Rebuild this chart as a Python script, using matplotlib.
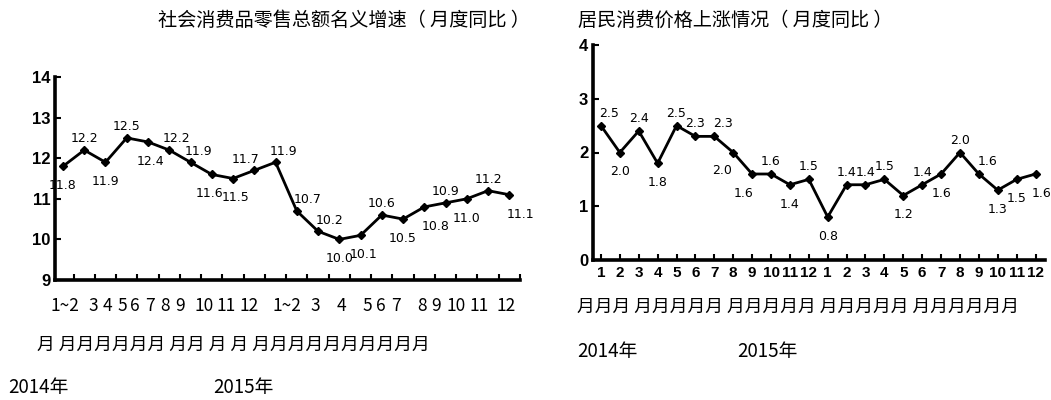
import matplotlib
matplotlib.use("Agg")
import matplotlib.pyplot as plt

plt.rcParams['font.family'] = ['Noto Sans CJK SC', 'DejaVu Sans']

# ---------------- data ----------------
retail_title = "社会消费品零售总额名义增速（ 月度同比 ）"
retail_values = [11.8, 12.2, 11.9, 12.5, 12.4, 12.2, 11.9, 11.6, 11.5, 11.7, 11.9,
                 10.7, 10.2, 10.0, 10.1, 10.6, 10.5, 10.8, 10.9, 11.0, 11.2, 11.1]
retail_yticks = [9, 10, 11, 12, 13, 14]
retail_month_labels = ["1~2", "3", "4", "5", "6", "7", "8", "9", "10", "11", "12",
                       "1~2", "3", "4", "5", "6", "7", "8", "9", "10", "11", "12"]
retail_xlabel_row2 = "月 月月月月月月 月月 月 月 月月月月月月月月月月"
year_2014 = "2014年"
year_2015 = "2015年"

cpi_title = "居民消费价格上涨情况（ 月度同比 ）"
cpi_values = [2.5, 2.0, 2.4, 1.8, 2.5, 2.3, 2.3, 2.0, 1.6, 1.6, 1.4, 1.5,
              0.8, 1.4, 1.4, 1.5, 1.2, 1.4, 1.6, 2.0, 1.6, 1.3, 1.5, 1.6]
cpi_yticks = [0, 1, 2, 3, 4]
cpi_months = [str(m) for m in range(1, 13)] * 2
cpi_xlabel_row2 = "月月月 月月月月月 月月月月月 月月月月月 月月月月月月"

# ---------------- layout (pixels / points) ----------------
# x-centres (px) of the left chart's month labels, as typeset in the source
retail_label_px = [65, 93, 107, 122, 135, 150, 165, 180, 204, 226, 249,
                   287, 315, 341, 367, 381, 396, 422, 436, 456, 479, 506]
# value-label offsets (points)
retail_offsets = [(0, -14), (0, 8), (0, -14), (0, 8), (2, -14), (5, 8), (6, 8), (-2, -14),
                  (2, -14), (-6, 8), (6, 8), (8, 8), (8, 8), (0, -14), (2, -14), (0, 8),
                  (0, -14), (8, -14), (0, 8), (0, -14), (0, 8), (8, -14)]
cpi_offsets = [(6, 9), (0, -14), (0, 9), (0, -14), (0, 9), (0, 9), (6, 9), (-8, -13),
               (-6, -14), (0, 9), (0, -14), (0, 9), (0, -14), (0, 9), (0, 9), (0, 9),
               (0, -14), (0, 9), (0, -14), (0, 9), (6, 9), (0, -14), (0, -14), (4, -14)]

W, H = 1051, 400
fig = plt.figure(figsize=(W / 100, H / 100), dpi=100)


def px_axes(x0, y_top, x1, y_bottom):
    return fig.add_axes([x0 / W, 1 - y_bottom / H, (x1 - x0) / W, (y_bottom - y_top) / H])


def ftext(x, y, s, **kw):
    kw.setdefault("va", "center")
    kw.setdefault("ha", "left")
    return fig.text(x / W, 1 - y / H, s, **kw)


def style(ax):
    for s in ("top", "right"):
        ax.spines[s].set_visible(False)
    for s in ("left", "bottom"):
        ax.spines[s].set_linewidth(2.6)
    ax.tick_params(direction="in", length=4, width=1.5)
    ax.patch.set_alpha(0)


label_font = dict(family=["DejaVu Sans"], fontsize=9)
tick_font = dict(family=["Liberation Sans"], fontweight="bold")

# ---------------- left chart ----------------
ax1 = px_axes(55, 77, 520, 280)
style(ax1)
x1 = list(range(len(retail_values)))
ax1.plot(x1, retail_values, color="black", lw=2, marker="D", ms=4)
ax1.set_ylim(9, 14)
ax1.set_xlim(-0.375, 21.46)
ax1.set_yticks(retail_yticks)
ax1.set_yticklabels([str(v) for v in retail_yticks], fontsize=12, **tick_font)
ax1.set_xticks([i + 0.5 for i in x1])
ax1.set_xticklabels([])
for xi, v, off in zip(x1, retail_values, retail_offsets):
    ax1.annotate(f"{v:.1f}", (xi, v), xytext=off, textcoords="offset points",
                 ha="center", va="center", **label_font)

ftext(158, 20, retail_title, fontsize=13.8)
for lab, px in zip(retail_month_labels, retail_label_px):
    ftext(px, 306, lab, fontsize=12.5, ha="center")
ftext(37, 345, retail_xlabel_row2, fontsize=12.8)
ftext(8, 388, year_2014, fontsize=13.5)
ftext(213, 388, year_2015, fontsize=13.5)

# ---------------- right chart ----------------
ax2 = px_axes(593, 45, 1045, 260)
style(ax2)
x2 = list(range(len(cpi_values)))
ax2.plot(x2, cpi_values, color="black", lw=2, marker="D", ms=4)
ax2.set_ylim(0, 4)
ax2.set_xlim(-0.42, 23.5)
ax2.set_yticks(cpi_yticks)
ax2.set_yticklabels([str(v) for v in cpi_yticks], fontsize=12, **tick_font)
ax2.set_xticks(x2)
ax2.set_xticklabels(cpi_months, fontsize=11, **tick_font)
ax2.tick_params(axis="x", pad=4)
for xi, v, off in zip(x2, cpi_values, cpi_offsets):
    ax2.annotate(f"{v:.1f}", (xi, v), xytext=off, textcoords="offset points",
                 ha="center", va="center", **label_font)

ftext(578, 20, cpi_title, fontsize=13.8)
ftext(577, 307, cpi_xlabel_row2, fontsize=12.8)
ftext(577, 352, year_2014, fontsize=13.5)
ftext(737, 352, year_2015, fontsize=13.5)

fig.savefig("out.png", dpi=100)
